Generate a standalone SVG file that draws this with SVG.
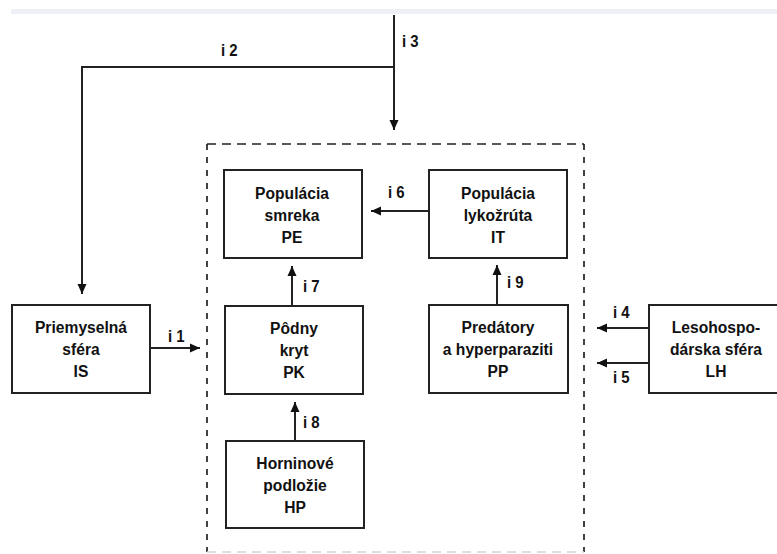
<svg xmlns="http://www.w3.org/2000/svg" width="777" height="554" viewBox="0 0 777 554">
  <defs>
    <marker id="arrow" markerWidth="10" markerHeight="10" refX="10" refY="5" orient="auto" markerUnits="userSpaceOnUse">
      <path d="M0,0.5 L10,5 L0,9.5 Z" fill="#111"/>
    </marker>
    <style>
      .box { fill: #fff; stroke: #222; stroke-width: 2; }
      .arr { fill: none; stroke: #222; stroke-width: 2; marker-end: url(#arrow); }
      .frame { fill: none; stroke: #222; stroke-width: 1.7; }
      .txt { font-family: "Liberation Sans", Arial, sans-serif; font-weight: bold; font-size: 17px; fill: #111; text-anchor: middle; }
      .lbl { font-family: "Liberation Sans", Arial, sans-serif; font-weight: bold; font-size: 17px; fill: #111; }
    </style>
  </defs>

  <rect width="777" height="554" fill="#fff"/>
  <!-- thin band along the top edge -->
  <rect x="11" y="9" width="766" height="5" fill="#edf0f6"/>

  <!-- system boundary -->
  <g id="boundary">
    <line class="frame" x1="207" y1="144" x2="584" y2="144" stroke-dasharray="9,6"/>
    <line class="frame" x1="207" y1="144" x2="207" y2="552" stroke-dasharray="6,7"/>
    <line class="frame" x1="584" y1="144" x2="584" y2="552" stroke-dasharray="6,7"/>
    <line x1="207" y1="552" x2="584" y2="552" stroke="#d4d4d4" stroke-width="1.4" stroke-dasharray="9,6"/>
  </g>

  <g id="connectors">
    <!-- i 3 / i 2 -->
    <line class="arr" x1="394" y1="15" x2="394" y2="130"/>
    <polyline class="arr" points="394,67 82,67 82,294"/>
    <!-- i 1 -->
    <line class="arr" x1="150" y1="348" x2="200" y2="348"/>
    <!-- i 6 -->
    <line class="arr" x1="429" y1="211" x2="371" y2="211"/>
    <!-- i 7 -->
    <line class="arr" x1="292" y1="306" x2="292" y2="266"/>
    <!-- i 8 -->
    <line class="arr" x1="295" y1="441" x2="295" y2="402"/>
    <!-- i 9 -->
    <line class="arr" x1="497" y1="305" x2="497" y2="265"/>
    <!-- i 4 / i 5 -->
    <line class="arr" x1="649" y1="328" x2="597" y2="328"/>
    <line class="arr" x1="649" y1="363" x2="597" y2="363"/>

    <!-- flow labels, slightly condensed -->
    <text class="lbl" transform="translate(221 56) scale(0.88 1)">i 2</text>
    <text class="lbl" transform="translate(402 47) scale(0.88 1)">i 3</text>
    <text class="lbl" transform="translate(168 342) scale(0.88 1)">i 1</text>
    <text class="lbl" transform="translate(388 198) scale(0.88 1)">i 6</text>
    <text class="lbl" transform="translate(303 292) scale(0.88 1)">i 7</text>
    <text class="lbl" transform="translate(303 428) scale(0.88 1)">i 8</text>
    <text class="lbl" transform="translate(507 288) scale(0.88 1)">i 9</text>
    <text class="lbl" transform="translate(613 318) scale(0.88 1)">i 4</text>
    <text class="lbl" transform="translate(613 383) scale(0.88 1)">i 5</text>
  </g>

  <g id="node-IS">
    <rect class="box" x="12" y="305" width="138" height="88"/>
    <g transform="translate(81 0) scale(0.92 1)">
      <text class="txt" x="0" y="333">Priemyselná</text>
      <text class="txt" x="0" y="355">sféra</text>
      <text class="txt" x="0" y="377">IS</text>
    </g>
  </g>

  <g id="node-PE">
    <rect class="box" x="224" y="170" width="138" height="88"/>
    <g transform="translate(292 0) scale(0.92 1)">
      <text class="txt" x="0" y="199">Populácia</text>
      <text class="txt" x="0" y="221">smreka</text>
      <text class="txt" x="0" y="243">PE</text>
    </g>
  </g>

  <g id="node-IT">
    <rect class="box" x="429" y="170" width="138" height="88"/>
    <g transform="translate(498 0) scale(0.92 1)">
      <text class="txt" x="0" y="199">Populácia</text>
      <text class="txt" x="0" y="221">lykožrúta</text>
      <text class="txt" x="0" y="243">IT</text>
    </g>
  </g>

  <g id="node-PK">
    <rect class="box" x="225" y="306" width="138" height="88"/>
    <g transform="translate(294 0) scale(0.92 1)">
      <text class="txt" x="0" y="334">Pôdny</text>
      <text class="txt" x="0" y="356">kryt</text>
      <text class="txt" x="0" y="378">PK</text>
    </g>
  </g>

  <g id="node-PP">
    <rect class="box" x="429" y="305" width="139" height="88"/>
    <g transform="translate(498 0) scale(0.92 1)">
      <text class="txt" x="0" y="333">Predátory</text>
      <text class="txt" x="0" y="355">a hyperparaziti</text>
      <text class="txt" x="0" y="377">PP</text>
    </g>
  </g>

  <g id="node-HP">
    <rect class="box" x="226" y="441" width="138" height="87"/>
    <g transform="translate(295 0) scale(0.92 1)">
      <text class="txt" x="0" y="469">Horninové</text>
      <text class="txt" x="0" y="491">podložie</text>
      <text class="txt" x="0" y="513">HP</text>
    </g>
  </g>

  <g id="node-LH">
    <rect class="box" x="649" y="305" width="134" height="88"/>
    <g transform="translate(716 0) scale(0.92 1)">
      <text class="txt" x="0" y="333">Lesohospo-</text>
      <text class="txt" x="0" y="355">dárska sféra</text>
      <text class="txt" x="0" y="377">LH</text>
    </g>
  </g>
</svg>
